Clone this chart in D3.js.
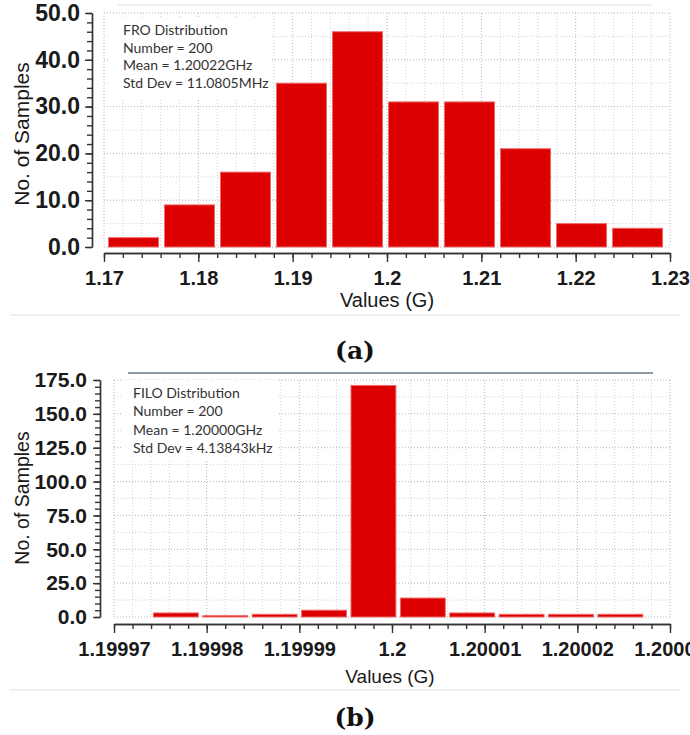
<!DOCTYPE html>
<html>
<head>
<meta charset="utf-8">
<script src="https://cdn.jsdelivr.net/npm/d3@7"></script>
<style>
  html, body { margin: 0; padding: 0; background: #fff; }
  svg { display: block; }
</style>
</head>
<body>
<svg id="chart" width="690" height="735"></svg>
<script>
// ---------------- DATA ----------------
// Panel (a): FRO distribution
const froBinStart = 1.170424;      // left edge of first bin (G)
const froBinWidth = 0.005937;      // bin width (G)
const froCounts = [2, 9, 16, 35, 46, 31, 31, 21, 5, 4];
const froXTicks = [1.17, 1.18, 1.19, 1.2, 1.21, 1.22, 1.23];
const froXTickLabels = ["1.17", "1.18", "1.19", "1.2", "1.21", "1.22", "1.23"];
const froYTicks = [0, 10, 20, 30, 40, 50];
const froYTickLabels = ["0.0", "10.0", "20.0", "30.0", "40.0", "50.0"];
const froLegend = ["FRO Distribution", "Number = 200", "Mean = 1.20022GHz", "Std Dev = 11.0805MHz"];

// Panel (b): FILO distribution
const filoBinStart = 1.1999742;
const filoBinWidth = 0.00000533;
const filoCounts = [3, 1, 2, 5, 171, 14, 3, 2, 2, 2];
const filoXTicks = [1.19997, 1.19998, 1.19999, 1.2, 1.20001, 1.20002, 1.20003];
const filoXTickLabels = ["1.19997", "1.19998", "1.19999", "1.2", "1.20001", "1.20002", "1.20003"];
const filoYTicks = [0, 25, 50, 75, 100, 125, 150, 175];
const filoYTickLabels = ["0.0", "25.0", "50.0", "75.0", "100.0", "125.0", "150.0", "175.0"];
const filoLegend = ["FILO Distribution", "Number = 200", "Mean = 1.20000GHz", "Std Dev = 4.13843kHz"];

const xLabel = "Values (G)";
const yLabel = "No. of Samples";

// ---------------- DRAWING ----------------
const svg = d3.select("#chart");
const FONT = "'Liberation Sans', Arial, sans-serif";
const BAR_FILL = "#dd0000";
const BAR_STROKE = "#ef6a6a";

function drawPanel(cfg) {
  const g = svg.append("g");
  const x = d3.scaleLinear().domain(cfg.xDomain).range([cfg.plotL, cfg.plotR]);
  const y = d3.scaleLinear().domain(cfg.yDomain).range([cfg.plotB, cfg.plotT]);

  // decorative top rule
  g.append("line")
    .attr("x1", cfg.topRule[0]).attr("x2", cfg.topRule[1])
    .attr("y1", cfg.topRule[2]).attr("y2", cfg.topRule[2])
    .attr("stroke", cfg.topRuleColor).attr("stroke-width", 2);

  // grid
  const xs = d3.range(cfg.xDomain[0], cfg.xDomain[1] + cfg.xMinor / 2, cfg.xMinor);
  g.append("g").selectAll("line").data(xs).join("line")
    .attr("x1", d => x(d)).attr("x2", d => x(d))
    .attr("y1", cfg.plotT).attr("y2", cfg.plotB)
    .attr("stroke", (d, i) => i % 5 === 0 ? "#b4b4b4" : "#d2d2d2")
    .attr("stroke-width", 1)
    .attr("stroke-dasharray", "1,2");
  const ys = d3.range(cfg.yDomain[0], cfg.yDomain[1] + cfg.yGrid / 2, cfg.yGrid);
  g.append("g").selectAll("line").data(ys).join("line")
    .attr("x1", cfg.plotL).attr("x2", cfg.plotR)
    .attr("y1", d => y(d)).attr("y2", d => y(d))
    .attr("stroke", (d, i) => i % 2 === 0 ? "#b4b4b4" : "#d2d2d2")
    .attr("stroke-width", 1)
    .attr("stroke-dasharray", "1,2");

  // legend box (hides grid)
  g.append("rect")
    .attr("x", cfg.legendBox[0]).attr("y", cfg.legendBox[1])
    .attr("width", cfg.legendBox[2]).attr("height", cfg.legendBox[3])
    .attr("fill", "#fff");

  // bars
  g.append("g").selectAll("rect").data(cfg.counts).join("rect")
    .attr("x", (d, i) => x(cfg.binStart + i * cfg.binWidth) + 0.5)
    .attr("y", d => y(d))
    .attr("width", (d, i) => x(cfg.binStart + (i + 1) * cfg.binWidth) - x(cfg.binStart + i * cfg.binWidth) - cfg.barGap)
    .attr("height", d => Math.max(1, y(0) - y(d)))
    .attr("fill", BAR_FILL)
    .attr("stroke", BAR_STROKE)
    .attr("stroke-width", 1);

  // y axis (minor + major)
  const yAxisX = cfg.yAxisX;
  const yMinorVals = d3.range(cfg.yDomain[0], cfg.yDomain[1] + cfg.yMinor / 2, cfg.yMinor);
  const gyMinor = g.append("g").attr("transform", `translate(${yAxisX},0)`)
    .call(d3.axisLeft(y).tickValues(yMinorVals).tickSize(5).tickSizeOuter(0).tickFormat(""));
  const gyMajor = g.append("g").attr("transform", `translate(${yAxisX},0)`)
    .call(d3.axisLeft(y).tickValues(cfg.yTicks).tickSize(7).tickSizeOuter(0).tickPadding(cfg.yPad)
      .tickFormat((d, i) => cfg.yTickLabels[i]));
  [gyMinor, gyMajor].forEach(a => {
    a.selectAll("path,line").attr("stroke", "#333").attr("stroke-width", 1.4);
  });
  gyMajor.selectAll("text")
    .attr("font-family", FONT).attr("font-size", cfg.yFont).attr("font-weight", "bold")
    .attr("fill", "#1a1a1a");

  // x axis (minor + major)
  const xMinorVals = d3.range(cfg.xDomain[0], cfg.xDomain[1] + cfg.xMinor / 2, cfg.xMinor);
  const gxMinor = g.append("g").attr("transform", `translate(0,${cfg.xAxisY})`)
    .call(d3.axisBottom(x).tickValues(xMinorVals).tickSize(5).tickSizeOuter(0).tickFormat(""));
  const gxMajor = g.append("g").attr("transform", `translate(0,${cfg.xAxisY})`)
    .call(d3.axisBottom(x).tickValues(cfg.xTicks).tickSize(9).tickSizeOuter(0).tickPadding(cfg.xPad)
      .tickFormat((d, i) => cfg.xTickLabels[i]));
  [gxMinor, gxMajor].forEach(a => {
    a.selectAll("path,line").attr("stroke", "#333").attr("stroke-width", 1.4);
  });
  gxMajor.selectAll("text")
    .attr("font-family", FONT).attr("font-size", cfg.xFont).attr("font-weight", "bold")
    .attr("fill", "#1a1a1a");

  // axis titles
  g.append("text")
    .attr("transform", `translate(${cfg.yLabelX},${cfg.yLabelY}) rotate(-90)`)
    .attr("text-anchor", "middle")
    .attr("font-family", FONT).attr("font-size", cfg.yLabelFont)
    .attr("fill", "#1a1a1a")
    .text(yLabel);
  g.append("text")
    .attr("x", cfg.xLabelX).attr("y", cfg.xLabelY)
    .attr("text-anchor", "middle")
    .attr("font-family", FONT).attr("font-size", cfg.xLabelFont)
    .attr("fill", "#1a1a1a")
    .text(xLabel);

  // faint rule under the x title
  g.append("line")
    .attr("x1", 10).attr("x2", 680)
    .attr("y1", cfg.bottomRuleY).attr("y2", cfg.bottomRuleY)
    .attr("stroke", "#f0f0f0").attr("stroke-width", 2);

  // legend text
  g.append("g").selectAll("text").data(cfg.legend).join("text")
    .attr("x", cfg.legendX)
    .attr("y", (d, i) => cfg.legendY + i * cfg.legendStep)
    .attr("font-family", "Lato, 'Open Sans', sans-serif")
    .attr("font-size", 14)
    .attr("fill", "#333")
    .text(d => d);

  // caption
  g.append("text")
    .attr("x", cfg.captionX).attr("y", cfg.captionY)
    .attr("text-anchor", "middle")
    .attr("font-family", "'DejaVu Serif', 'Liberation Serif', serif")
    .attr("font-weight", "bold")
    .attr("font-size", 25)
    .attr("fill", "#111")
    .text(cfg.caption);
}

drawPanel({
  xDomain: [1.17, 1.23], yDomain: [0, 50],
  plotL: 104, plotR: 670, plotT: 13, plotB: 247,
  xMinor: 0.002, yMinor: 2, yGrid: 5,
  binStart: froBinStart, binWidth: froBinWidth, counts: froCounts, barGap: 6,
  yTicks: froYTicks, yTickLabels: froYTickLabels,
  xTicks: froXTicks, xTickLabels: froXTickLabels,
  yAxisX: 92, xAxisY: 253, yPad: 5, xPad: 9,
  yFont: 23, xFont: 20,
  yLabelX: 29, yLabelY: 134, yLabelFont: 21,
  xLabelX: 387, xLabelY: 307, xLabelFont: 20,
  legendBox: [110, 18, 160, 80],
  legend: froLegend, legendX: 123, legendY: 35, legendStep: 17.7,
  topRule: [118, 652, 5], topRuleColor: "#eeeeee",
  bottomRuleY: 315,
  caption: "(a)", captionX: 355, captionY: 359
});

drawPanel({
  xDomain: [1.19997, 1.20003], yDomain: [0, 175],
  plotL: 114, plotR: 670, plotT: 380, plotB: 617,
  xMinor: 0.000002, yMinor: 5, yGrid: 12.5,
  binStart: filoBinStart, binWidth: filoBinWidth, counts: filoCounts, barGap: 4.5,
  yTicks: filoYTicks, yTickLabels: filoYTickLabels,
  xTicks: filoXTicks, xTickLabels: filoXTickLabels,
  yAxisX: 100, xAxisY: 624, yPad: 6, xPad: 9,
  yFont: 21, xFont: 20,
  yLabelX: 29, yLabelY: 498, yLabelFont: 19.5,
  xLabelX: 390, xLabelY: 683, xLabelFont: 19,
  legendBox: [122, 380, 156, 81],
  legend: filoLegend, legendX: 133, legendY: 398, legendStep: 18.3,
  topRule: [128, 653, 373], topRuleColor: "#8c9ba3",
  bottomRuleY: 690,
  caption: "(b)", captionX: 355, captionY: 726
});
</script>
</body>
</html>
